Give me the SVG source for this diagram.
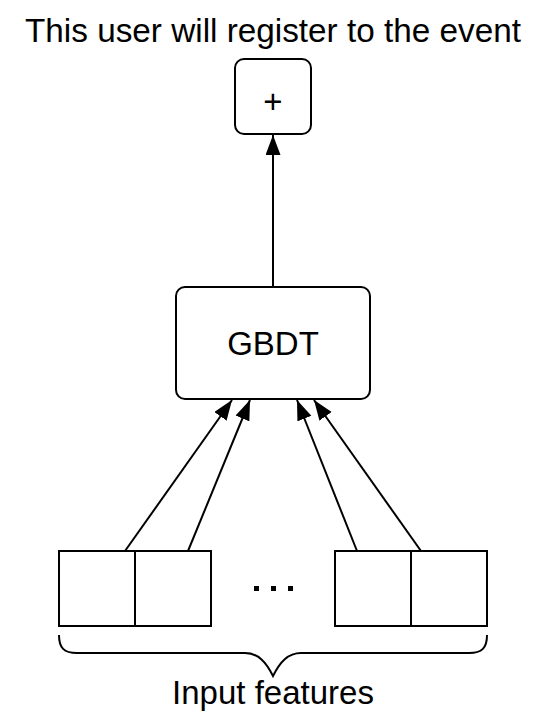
<svg xmlns="http://www.w3.org/2000/svg" width="546" height="723" viewBox="0 0 546 723">
<style>
.t{font-family:"Liberation Sans",Arial,Helvetica,sans-serif;font-size:33px;fill:#000;text-anchor:middle}
.b{fill:#fff;stroke:#000;stroke-width:2}
.c{fill:none;stroke:#000;stroke-width:2}
</style>
<defs>
<marker id="ah" markerUnits="userSpaceOnUse" markerWidth="22" markerHeight="16" refX="20" refY="7.5" orient="auto">
<path d="M0,0 L20,7.5 L0,15 Z" fill="#000"/>
</marker>
</defs>
<rect width="546" height="723" fill="#fff"/>
<g id="title"><text class="t" x="273" y="42" style="font-size:33.3px">This user will register to the event</text></g>
<g id="plus"><rect class="b" x="235" y="59" width="76" height="75" rx="9"/><text class="t" x="273" y="113">+</text></g>
<g id="gbdt"><rect class="b" x="176" y="287" width="194" height="112" rx="9"/><text class="t" x="273" y="355">GBDT</text></g>
<g id="f1"><rect class="b" x="59" y="551" width="76" height="75"/></g>
<g id="f2"><rect class="b" x="135" y="551" width="76" height="75"/></g>
<g id="dots"><rect x="254" y="586" width="5" height="5"/><rect x="271" y="586" width="5" height="5"/><rect x="288" y="586" width="5" height="5"/></g>
<g id="f3"><rect class="b" x="335" y="551" width="76" height="75"/></g>
<g id="f4"><rect class="b" x="411" y="551" width="76" height="75"/></g>
<g id="brace"><path class="c" d="M59,635 C59,648 64,653 77,653 L245,653 C258,653 266,662 273,676 C280,662 288,653 301,653 L469,653 C482,653 487,648 487,635"/><text class="t" x="273" y="704">Input features</text></g>
<g id="connectors">
<line class="c" x1="273" y1="287" x2="273" y2="135" marker-end="url(#ah)"/>
<line class="c" x1="125" y1="551" x2="232" y2="400" marker-end="url(#ah)"/>
<line class="c" x1="188" y1="551" x2="250" y2="400" marker-end="url(#ah)"/>
<line class="c" x1="357" y1="551" x2="297" y2="400" marker-end="url(#ah)"/>
<line class="c" x1="421" y1="551" x2="314" y2="400" marker-end="url(#ah)"/>
</g>
</svg>
